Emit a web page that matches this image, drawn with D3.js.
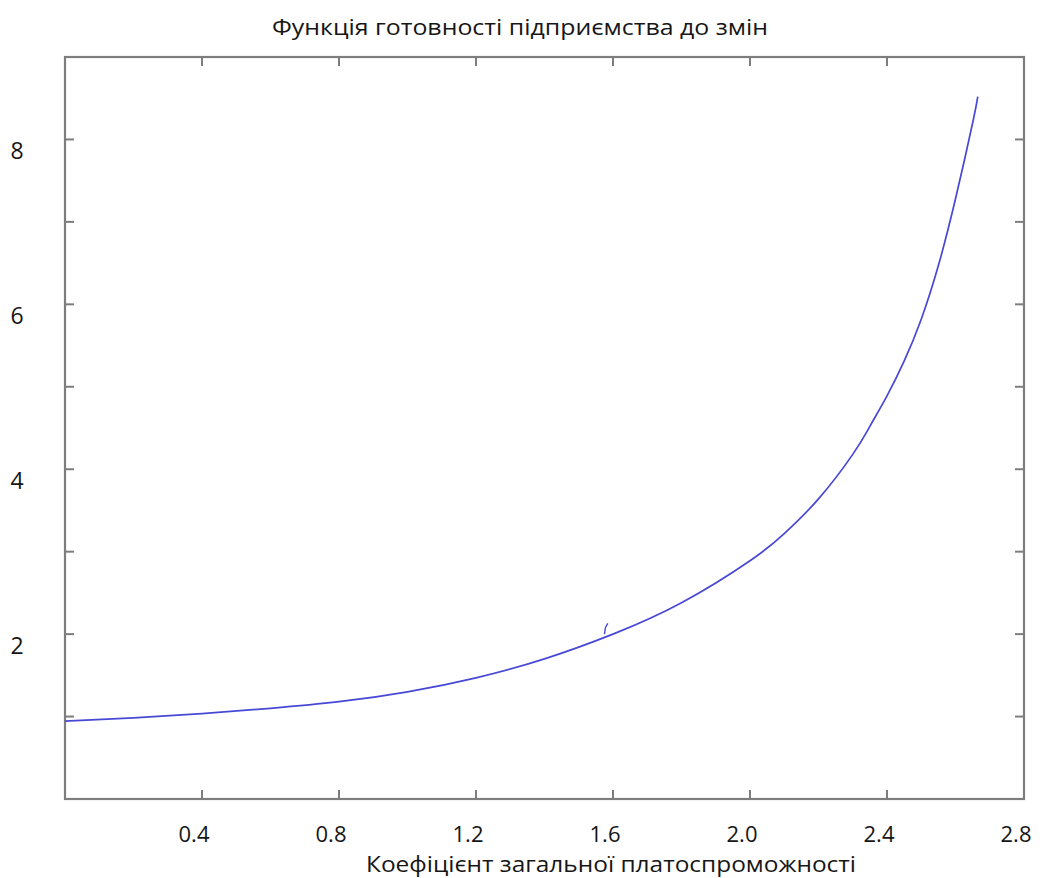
<!DOCTYPE html>
<html>
<head>
<meta charset="utf-8">
<script src="https://cdn.jsdelivr.net/npm/d3@7"></script>
<style>
  html, body { margin: 0; padding: 0; background: #fff; }
  svg { display: block; }
  text { font-family: "Open Sans", "Noto Sans", sans-serif; fill: #161616; }
</style>
</head>
<body>
<svg id="chart" width="1040" height="878"></svg>
<script>
// Readiness function values against the general solvency ratio
const solvency  = [0, 0.2, 0.4, 0.6, 0.8, 1.0, 1.2, 1.4, 1.6, 1.8, 2.0, 2.1, 2.2, 2.3, 2.35, 2.4, 2.45, 2.5, 2.55, 2.6, 2.65, 2.665];
const readiness = [0.945, 0.985, 1.035, 1.10, 1.18, 1.30, 1.47, 1.70, 2.00, 2.38, 2.89, 3.22, 3.64, 4.18, 4.52, 4.89, 5.31, 5.82, 6.47, 7.28, 8.20, 8.52];

// Small pen stroke that branches off the curve near x = 1.58
const hookX = [1.575, 1.578, 1.585];
const hookY = [2.0, 2.08, 2.13];

// Axis ticks
const xTicks = [0.4, 0.8, 1.2, 1.6, 2.0, 2.4, 2.8];
const xTickLabels = ["0.4", "0.8", "1.2", "1.6", "2.0", "2.4", "2.8"];
const yTicks = [1, 2, 3, 4, 5, 6, 7, 8];
const yTickLabels = ["2", "4", "6", "8"];

const title = "Функція готовності підприємства до змін";
const xTitle = "Коефіцієнт загальної платоспроможності";

const svg = d3.select("#chart");
const plot = { left: 65, right: 1024, top: 57, bottom: 799 };

const x = d3.scaleLinear().domain([0, 2.8]).range([plot.left, plot.right]);
const y = d3.scaleLinear().domain([0, 9]).range([plot.bottom, plot.top]);

const frameColor = "#7d7d7d";
const tickLen = 9;

// Ticks pointing inward on all four sides
const g = svg.append("g");
const xInner = xTicks.filter(v => v < 2.8);
g.selectAll("line.xb").data(xInner).join("line")
  .attr("x1", d => x(d)).attr("x2", d => x(d))
  .attr("y1", y(0)).attr("y2", y(0) - tickLen)
  .attr("stroke", frameColor).attr("stroke-width", 2);
g.selectAll("line.xt").data(xInner).join("line")
  .attr("x1", d => x(d)).attr("x2", d => x(d))
  .attr("y1", y(9)).attr("y2", y(9) + tickLen)
  .attr("stroke", frameColor).attr("stroke-width", 2);
g.selectAll("line.yl").data(yTicks).join("line")
  .attr("x1", x(0)).attr("x2", x(0) + tickLen)
  .attr("y1", d => y(d)).attr("y2", d => y(d))
  .attr("stroke", frameColor).attr("stroke-width", 2);
g.selectAll("line.yr").data(yTicks).join("line")
  .attr("x1", x(2.8)).attr("x2", x(2.8) - tickLen)
  .attr("y1", d => y(d)).attr("y2", d => y(d))
  .attr("stroke", frameColor).attr("stroke-width", 2);

// Frame
svg.append("rect")
  .attr("x", x(0)).attr("y", y(9))
  .attr("width", x(2.8) - x(0)).attr("height", y(0) - y(9))
  .attr("fill", "none").attr("stroke", frameColor).attr("stroke-width", 2.2);

// Tick labels
svg.selectAll("text.xl").data(xTicks).join("text")
  .attr("x", d => x(d) - 8).attr("y", y(0) + 43)
  .attr("text-anchor", "middle")
  .attr("font-size", 22).attr("font-weight", 500)
  .text((d, i) => xTickLabels[i]);

svg.selectAll("text.yl").data(yTickLabels).join("text")
  .attr("x", 17).attr("y", d => y(+d) + 20)
  .attr("text-anchor", "middle")
  .attr("font-size", 23).attr("font-weight", 500)
  .text(d => d);

// Titles
svg.append("text")
  .attr("x", 520).attr("y", 35)
  .attr("text-anchor", "middle")
  .attr("font-size", 22)
  .attr("textLength", 496).attr("lengthAdjust", "spacingAndGlyphs")
  .text(title);

svg.append("text")
  .attr("x", 611).attr("y", 872)
  .attr("text-anchor", "middle")
  .attr("font-size", 21)
  .attr("textLength", 490).attr("lengthAdjust", "spacingAndGlyphs")
  .text(xTitle);

// Curve
const line = d3.line().x(d => x(d[0])).y(d => y(d[1])).curve(d3.curveNatural);
const pts = d3.zip(solvency, readiness);
svg.append("path")
  .attr("d", line(pts))
  .attr("fill", "none")
  .attr("stroke", "#4848d6")
  .attr("stroke-width", 1.7);

svg.append("path")
  .attr("d", d3.line().x(d => x(d[0])).y(d => y(d[1]))(d3.zip(hookX, hookY)))
  .attr("fill", "none")
  .attr("stroke", "#4848d6")
  .attr("stroke-width", 1.4);
</script>
</body>
</html>
